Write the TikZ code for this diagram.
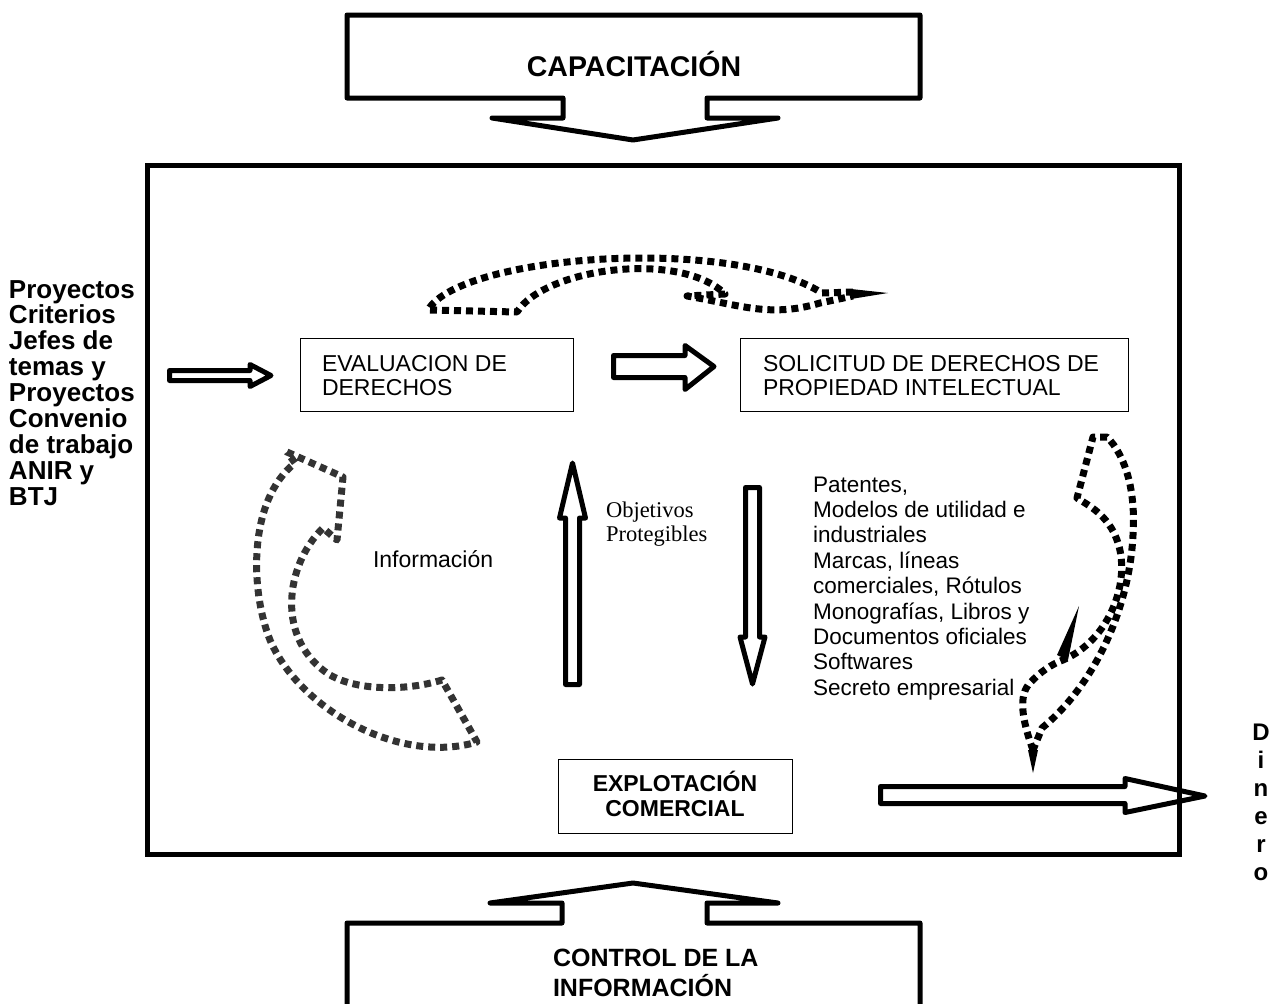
\documentclass[tikz,border=0pt]{standalone}
\usepackage{fontspec}
\setmainfont{Liberation Sans}
\newfontfamily\serifont{Liberation Serif}
\definecolor{dgray}{RGB}{51,51,51}
\tikzset{
  blockline/.style={line width=5pt, line join=round, line cap=round},
  thinbox/.style={draw, line width=1pt, inner sep=0pt, anchor=north west},
  dotline/.style={line width=7pt, dash pattern=on 7pt off 5pt, line join=round},
  lbl/.style={inner sep=0pt, outer sep=0pt}
}
\begin{document}
\begin{tikzpicture}[x=1pt,y=-1pt]
\path[use as bounding box] (0,0) rectangle (1272,1004);
\clip (0,0) rectangle (1272,1004);
\fill[white] (0,0) rectangle (1272,1004);

% top callout
\draw[blockline] (347,15) -- (920,15) -- (920,98) -- (707,98) -- (707,118) -- (778,118)
  -- (633,140) -- (492,118) -- (563,118) -- (563,98) -- (347,98) -- cycle;
\node[lbl, anchor=base] (cap) at (634,76) {\bfseries\fontsize{28.5}{32}\selectfont CAPACITACIÓN};

% main frame
\draw[line width=5.5pt] (147.5,165.5) rectangle (1179.5,854.5);

% bottom callout
\draw[blockline] (347,1012) -- (347,923) -- (562,923) -- (562,903) -- (490,903) -- (633,883)
  -- (778,903) -- (707,903) -- (707,923) -- (920,923) -- (920,1012);
\node[lbl, anchor=base west] (ctrl) at (553,966) {\vtop{\bfseries\fontsize{25}{30}\selectfont
  \hbox{CONTROL DE LA}\hbox{INFORMACIÓN}}};

% left inputs
\node[lbl, anchor=base west] (inputs) at (9,298) {\vtop{\bfseries\fontsize{26}{25.9}\selectfont
  \hbox{Proyectos}\hbox{Criterios}\hbox{Jefes de}\hbox{temas y}\hbox{Proyectos}\hbox{Convenio}\hbox{de trabajo}\hbox{ANIR y}\hbox{BTJ}}};

% boxes
\node[thinbox, minimum width=273pt, minimum height=73pt] (evalbox) at (300,338) {};
\node[lbl, anchor=base west] (evaltxt) at (322,371) {\vtop{\fontsize{23}{24}\selectfont
  \hbox{EVALUACION DE}\hbox{DERECHOS}}};
\node[thinbox, minimum width=388pt, minimum height=73pt] (solbox) at (740,338) {};
\node[lbl, anchor=base west] (soltxt) at (763,371) {\vtop{\fontsize{23}{24}\selectfont
  \hbox{SOLICITUD DE DERECHOS DE}\hbox{PROPIEDAD INTELECTUAL}}};
\node[thinbox, minimum width=234pt, minimum height=74pt] (expbox) at (558,759) {};
\node[lbl, anchor=base] (exptxt) at (675,791) {\vtop{\bfseries\fontsize{23}{25}\selectfont
  \hbox to 220pt{\hfil EXPLOTACIÓN\hfil}\hbox to 220pt{\hfil COMERCIAL\hfil}}};

% block arrows
\draw[blockline] (169.5,370.5) -- (250,370.5) -- (250,364.5) -- (271,375.5) -- (250,386.5)
  -- (250,380.5) -- (169.5,380.5) -- cycle;
\draw[blockline] (613.5,355.5) -- (685,355.5) -- (685,345.5) -- (714,366.5) -- (685,389.5)
  -- (685,377.5) -- (613.5,377.5) -- cycle;
\draw[blockline] (565.5,684.5) -- (565.5,518) -- (559.5,518) -- (572.5,463) -- (585.5,518)
  -- (579.5,518) -- (579.5,684.5) -- cycle;
\draw[blockline] (745.5,487.5) -- (759.5,487.5) -- (759.5,637) -- (765,637) -- (752.5,684)
  -- (740,637) -- (745.5,637) -- cycle;
\draw[blockline] (880.5,786.5) -- (1125,786.5) -- (1125,778.5) -- (1205,796) -- (1125,812.5)
  -- (1125,803.5) -- (880.5,803.5) -- cycle;

% labels
\node[lbl, anchor=base west] (obj) at (606,517) {\vtop{\serifont\fontsize{22.5}{24}\selectfont
  \hbox{Objetivos}\hbox{Protegibles}}};
\node[lbl, anchor=base west] (info) at (373,567) {\fontsize{23}{26}\selectfont Información};
\node[lbl, anchor=base west] (tipos) at (813,492) {\vtop{\fontsize{22.5}{25.4}\selectfont
  \hbox{Patentes,}\hbox{Modelos de utilidad e}\hbox{industriales}\hbox{Marcas, líneas}
  \hbox{comerciales, Rótulos}\hbox{Monografías, Libros y}\hbox{Documentos oficiales}
  \hbox{Softwares}\hbox{Secreto empresarial}}};
\node[lbl, anchor=base] (dinero) at (1261,740) {\vtop{\bfseries\fontsize{24}{28}\selectfont
  \hbox to 20pt{\hfil D\hfil}\hbox to 20pt{\hfil i\hfil}\hbox to 20pt{\hfil n\hfil}
  \hbox to 20pt{\hfil e\hfil}\hbox to 20pt{\hfil r\hfil}\hbox to 20pt{\hfil o\hfil}}};

% top dotted curved arrow
\draw[dotline] (853,292) -- (822,293) .. controls (730,235) and (460,255) .. (428,310)
  -- (517,312) .. controls (545,268) and (680,250) .. (725,294) -- (687,296)
  .. controls (740,305) and (770,318) .. (820,303) -- (853,296);
\fill (851,289) -- (888,293) -- (851,299) -- cycle;

% left dotted curved arrow
\draw[dotline, dgray] (287,452) -- (343,477) -- (337,540) -- (323,528)
  .. controls (285,565) and (275,640) .. (330,675) .. controls (360,692) and (410,690) .. (442,680)
  -- (477,742) .. controls (400,765) and (300,710) .. (270,640)
  .. controls (250,590) and (248,500) .. (295,463) -- cycle;

% right dotted curved arrow
\draw[dotline] (1033,750) .. controls (1022,720) and (1018,695) .. (1030,683)
  .. controls (1040,672) and (1052,664) .. (1063,660)
  .. controls (1110,640) and (1132,580) .. (1117,540)
  .. controls (1108,515) and (1088,505) .. (1077,498) -- (1093,437) -- (1107,437)
  .. controls (1125,455) and (1136,490) .. (1133,535)
  .. controls (1130,600) and (1100,680) .. (1042,728) -- (1033,750);
\fill (1057,655) -- (1079,606) -- (1068,660) -- cycle;
\fill (1028,750) -- (1033,773) -- (1038,750) -- cycle;
\end{tikzpicture}
\end{document}
